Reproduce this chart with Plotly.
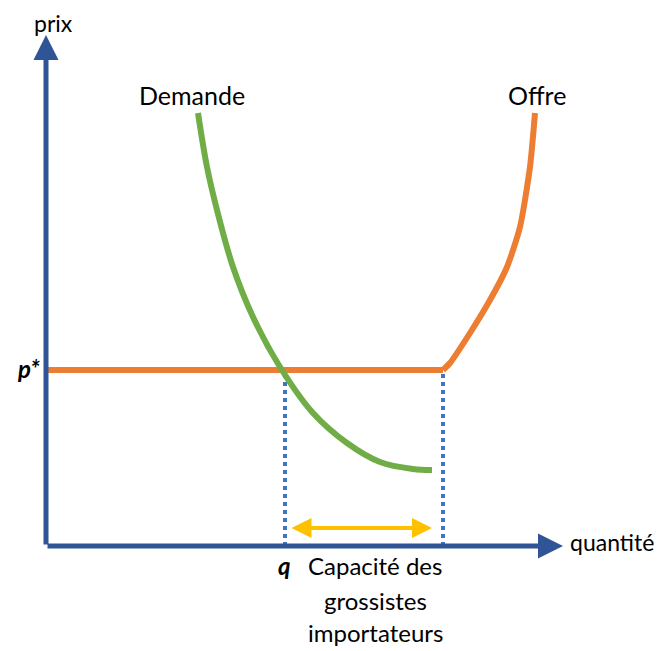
import plotly.graph_objects as go

# quantity / price units, origin at the axes corner
demand_q = [152, 161, 171, 187, 207, 234, 267, 301, 334, 367, 386]
demand_p = [433, 379, 336, 279, 229, 179, 133, 103, 84, 77, 76]

supply_q = [2, 397, 404, 424, 444, 461, 474, 484, 489]
supply_p = [176, 176, 183, 213, 246, 279, 319, 379, 433]

p_star = 176
q_demand = 239
q_capacity = 397
capacity_arrow = [244, 386]
capacity_arrow_y = 18

axis_x_end = 517
axis_y_end = 511

capacity_lines = ["Capacité des", "grossistes", "importateurs"]
capacity_line_y = [-19, -54, -86]

blue = "#2F5597"
font = "Lato"

fig = go.Figure()

fig.add_trace(go.Scatter(x=[q_demand, q_demand], y=[0, p_star], mode="lines",
                         line=dict(color="#4472C4", width=4, dash="dot")))
fig.add_trace(go.Scatter(x=[q_capacity, q_capacity], y=[0, p_star], mode="lines",
                         line=dict(color="#4472C4", width=4, dash="dot")))
# flat part then rising part of the supply
fig.add_trace(go.Scatter(x=supply_q[:2], y=supply_p[:2], mode="lines",
                         line=dict(color="#ED7D31", width=6)))
fig.add_trace(go.Scatter(x=supply_q[1:], y=supply_p[1:], mode="lines",
                         line=dict(color="#ED7D31", width=6, shape="spline", smoothing=0.6)))
fig.add_trace(go.Scatter(x=demand_q, y=demand_p, mode="lines",
                         line=dict(color="#70AD47", width=6, shape="spline", smoothing=1)))

# axes with arrows
fig.add_annotation(x=axis_x_end, y=0, ax=0, ay=0, xref="x", yref="y", axref="x", ayref="y",
                   showarrow=True, arrowhead=2, arrowsize=1, arrowwidth=5, arrowcolor=blue, text="")
fig.add_annotation(x=0, y=axis_y_end, ax=0, ay=0, xref="x", yref="y", axref="x", ayref="y",
                   showarrow=True, arrowhead=2, arrowsize=1, arrowwidth=5, arrowcolor=blue, text="")

# capacity double arrow
fig.add_annotation(x=capacity_arrow[1], y=capacity_arrow_y, ax=capacity_arrow[0], ay=capacity_arrow_y,
                   xref="x", yref="y", axref="x", ayref="y", showarrow=True,
                   arrowhead=2, startarrowhead=2, arrowside="end+start", arrowsize=1, startarrowsize=1,
                   arrowwidth=4, arrowcolor="#FFC000", text="")

big = dict(family=font, size=25, color="black")
fig.add_annotation(x=7, y=523, text="prix", showarrow=False,
                   font=dict(family=font, size=23, color="black"))
fig.add_annotation(x=146, y=451, text="Demande", showarrow=False, font=big)
fig.add_annotation(x=491, y=451, text="Offre", showarrow=False, font=big)
fig.add_annotation(x=566, y=4, text="quantité", showarrow=False,
                   font=dict(family=font, size=23, color="black"))
fig.add_annotation(x=-18, y=p_star + 2, text="<b><i>p*</i></b>", showarrow=False,
                   font=dict(family=font, size=24, color="black"))
fig.add_annotation(x=q_demand - 1, y=-19, text="<b><i>q</i></b>", showarrow=False,
                   font=dict(family=font, size=24, color="black"))
for line, ly in zip(capacity_lines, capacity_line_y):
    fig.add_annotation(x=329, y=ly, text=line, showarrow=False,
                       font=dict(family=font, size=24, color="black"))

# the page body has an 8px margin, so the ranges are shifted to compensate
fig.update_layout(width=665, height=651, margin=dict(l=0, r=0, t=0, b=0),
                  plot_bgcolor="white", paper_bgcolor="white", showlegend=False)
fig.update_xaxes(range=[-38, 627], visible=False)
fig.update_yaxes(range=[-113, 538], visible=False)

fig.write_html("out.html")
